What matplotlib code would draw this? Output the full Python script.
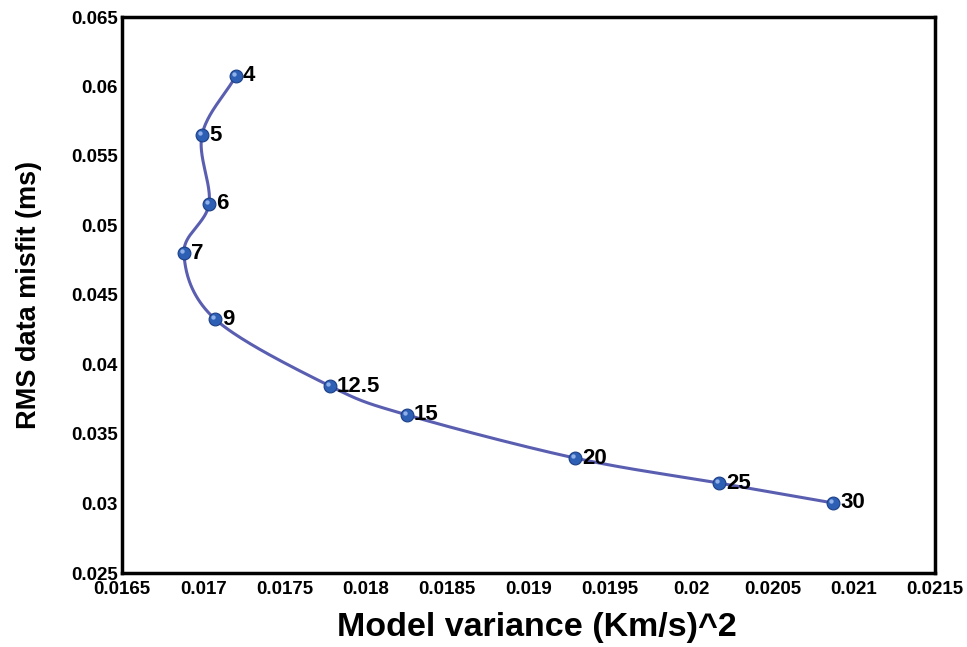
import numpy as np
import matplotlib.pyplot as plt

# L-curve: model variance vs RMS data misfit, labelled by damping value
damping = ['4', '5', '6', '7', '9', '12.5', '15', '20', '25', '30']
model_variance = [0.017201, 0.016992, 0.017035, 0.016881, 0.017072,
                  0.017779, 0.018253, 0.019286, 0.020172, 0.020873]
rms_misfit = [0.06076, 0.05651, 0.05155, 0.04802, 0.04327,
              0.03845, 0.03637, 0.03327, 0.03147, 0.03004]


def smooth_curve(x, y, n=40):
    """Catmull-Rom spline through the points (for the connecting line only)."""
    x = np.asarray(x)
    y = np.asarray(y)
    # normalise so both axes weigh similarly
    sx = (x.max() - x.min())
    sy = (y.max() - y.min())
    pts = np.column_stack([x / sx, y / sy])
    pts = np.vstack([2 * pts[0] - pts[1], pts, 2 * pts[-1] - pts[-2]])
    out = []
    t = np.linspace(0, 1, n, endpoint=False)[:, None]
    for i in range(1, len(pts) - 2):
        p0, p1, p2, p3 = pts[i - 1], pts[i], pts[i + 1], pts[i + 2]
        seg = 0.5 * ((2 * p1) + (-p0 + p2) * t
                     + (2 * p0 - 5 * p1 + 4 * p2 - p3) * t ** 2
                     + (-p0 + 3 * p1 - 3 * p2 + p3) * t ** 3)
        out.append(seg)
    out.append(pts[-2][None, :])
    out = np.vstack(out)
    return out[:, 0] * sx, out[:, 1] * sy


plt.rcParams['font.family'] = ['Liberation Sans', 'DejaVu Sans']
plt.rcParams['font.weight'] = 'bold'

fig = plt.figure(figsize=(9.67, 6.47), dpi=100)
ax = fig.add_axes([122 / 967, 1 - 573 / 647, 813 / 967, 556 / 647])

cx, cy = smooth_curve(model_variance, rms_misfit)
ax.plot(cx, cy, color='#5a5eb0', linewidth=2.2, zorder=2)
ax.scatter(model_variance, rms_misfit, s=85, color='#2d5fb5',
           edgecolors='#1c3f86', linewidths=0.8, zorder=3)
ax.scatter(np.array(model_variance) - 0.00001, np.array(rms_misfit) + 0.00012,
           s=10, color='#8fb0e8', linewidths=0, zorder=4)

for lab, xv, yv in zip(damping, model_variance, rms_misfit):
    ax.annotate(lab, (xv, yv), xytext=(5, 0), textcoords='offset points',
                va='center', ha='left', fontsize=16, fontweight='bold')

ax.set_xlim(0.0165, 0.0215)
ax.set_ylim(0.025, 0.065)
ax.set_xticks(np.arange(0.0165, 0.02151, 0.0005))
ax.set_yticks(np.arange(0.025, 0.06501, 0.005))
ax.set_xticklabels(['0.0165', '0.017', '0.0175', '0.018', '0.0185', '0.019',
                    '0.0195', '0.02', '0.0205', '0.021', '0.0215'])
ax.set_yticklabels(['0.025', '0.03', '0.035', '0.04', '0.045', '0.05',
                    '0.055', '0.06', '0.065'])
ax.tick_params(axis='both', length=0, labelsize=13.5)
ax.tick_params(axis='x', pad=6)
ax.tick_params(axis='y', pad=3)
for s in ax.spines.values():
    s.set_linewidth(2.5)

ax.set_xlabel('Model variance (Km/s)^2', fontsize=24.5, fontweight='bold')
ax.xaxis.set_label_coords(0.51, -0.070)
ax.set_ylabel('RMS data misfit (ms)', fontsize=19.5, fontweight='bold', labelpad=21)

fig.savefig('out.png', dpi=100)
